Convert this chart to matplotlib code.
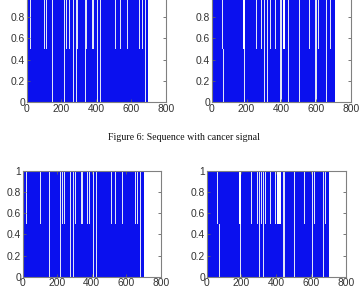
import matplotlib
matplotlib.use("Agg")
import matplotlib.pyplot as plt

# ---- data ----
x_ticks = [0, 200, 400, 600, 800]
y_ticks = [0, 0.2, 0.4, 0.6, 0.8, 1]
y_tick_labels = ["0", "0.2", "0.4", "0.6", "0.8", "1"]
caption = "Figure 6: Sequence with cancer signal"

# top-left panel
tl_end = 697
tl_upper = [23, 102, 113, 230, 244, 292, 343, 376, 387, 512, 538, 578, 648, 664]
tl_lower = []
tl_full = [150, 219, 270, 286, 336, 408, 426, 683]
tl_wide = []

# top-right panel
tr_end = 707
tr_upper = [60, 256, 287, 337, 364, 563, 614, 680]
tr_lower = [66]
tr_full = [191, 305, 318, 398, 440, 505, 599, 662]
tr_wide = [188, 413]

# bottom-left panel
bl_end = 700
bl_upper = [20, 104, 232, 243, 304, 343, 376, 387, 514, 535, 578, 652, 665]
bl_lower = []
bl_full = [154, 220, 275, 293, 412, 428, 680]
bl_wide = []

# bottom-right panel
br_end = 706
br_upper = [61, 257, 291, 318, 341, 369, 395, 564, 622, 683]
br_lower = [73]
br_full = [197, 302, 326, 445, 507, 610, 672]
br_wide = [192, 424, 409]

BLUE = "#0a10ee"
GAP = "#dfe3f6"
GAP_W = 6
WIDE_W = 12

W, H = 361, 291
fig = plt.figure(figsize=(W / 100, H / 100), dpi=100)
fig.patch.set_facecolor("white")


def make_axes(left_px, right_px, top_px, bottom_px):
    return fig.add_axes([left_px / W, 1 - bottom_px / H,
                         (right_px - left_px) / W, (bottom_px - top_px) / H])


def panel(ax, end, upper, lower, full, wide, show_top_label=True):
    ax.bar([0], [1], width=end, align="edge", color=BLUE, linewidth=0)
    ax.bar(upper, [0.5] * len(upper), bottom=0.5, width=GAP_W, color=GAP, linewidth=0)
    ax.bar(lower, [0.5] * len(lower), bottom=0.0, width=GAP_W, color=GAP, linewidth=0)
    ax.bar(full, [1.0] * len(full), bottom=0.0, width=GAP_W, color=GAP, linewidth=0)
    # wide light gaps in the upper half
    ax.bar(wide, [0.5] * len(wide), bottom=0.5, width=WIDE_W, color="white", linewidth=0)
    ax.set_xlim(0, 800)
    ax.set_ylim(0, 1)
    ax.set_xticks(x_ticks)
    ax.set_xticklabels([str(v) for v in x_ticks])
    ax.set_yticks(y_ticks)
    labels = list(y_tick_labels)
    if not show_top_label:
        labels[-1] = ""
    ax.set_yticklabels(labels)
    ax.tick_params(direction="in", length=2, width=0.6, color="#606060",
                   labelsize=7.4, labelcolor="#333333", pad=1.2,
                   top=True, right=True)
    for lab in ax.get_xticklabels() + ax.get_yticklabels():
        lab.set_family(["Liberation Sans", "DejaVu Sans"])
    for s in ax.spines.values():
        s.set_color("#808080")
        s.set_linewidth(0.8)


ax_tl = make_axes(26.7, 165.7, -4.25, 102)
ax_tr = make_axes(211.7, 351.0, -4.25, 102.3)
ax_bl = make_axes(22.7, 161.0, 170.7, 276.7)
ax_br = make_axes(206.7, 345.7, 170.7, 276.7)

panel(ax_tl, tl_end, tl_upper, tl_lower, tl_full, tl_wide, show_top_label=False)
panel(ax_tr, tr_end, tr_upper, tr_lower, tr_full, tr_wide, show_top_label=False)
panel(ax_bl, bl_end, bl_upper, bl_lower, bl_full, bl_wide)
panel(ax_br, br_end, br_upper, br_lower, br_full, br_wide)

fig.text(183.5 / W, 1 - 138 / H, caption, ha="center", va="center",
         fontsize=7.1, family=["Liberation Serif", "DejaVu Serif"], color="#111111")

fig.savefig("out.png", dpi=100)
